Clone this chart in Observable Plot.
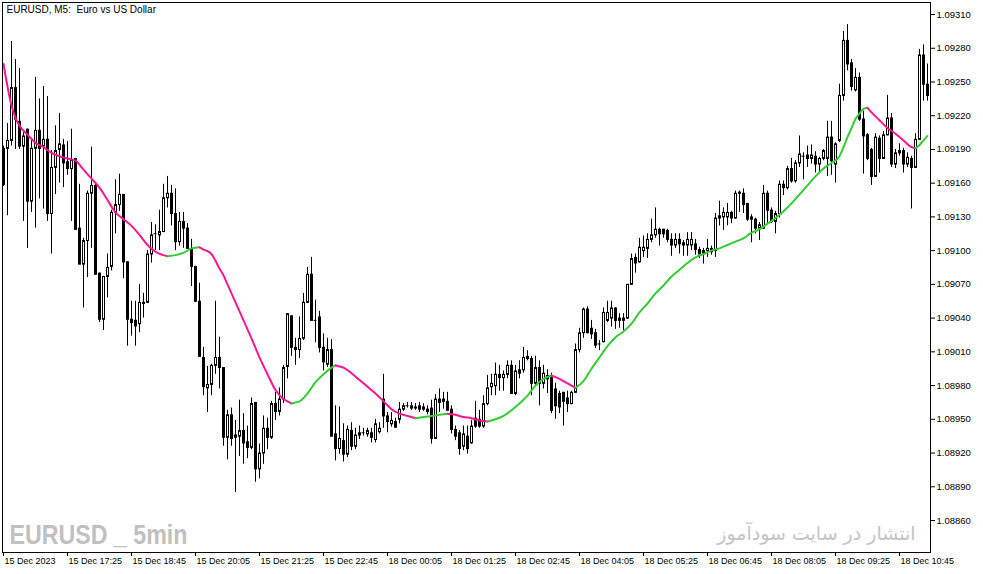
<!DOCTYPE html>
<html><head><meta charset="utf-8">
<script src="https://cdn.jsdelivr.net/npm/d3@7"></script>
<script src="https://cdn.jsdelivr.net/npm/@observablehq/plot@0.6"></script>
<style>html,body{margin:0;padding:0;background:#fff;overflow:hidden}</style>
</head><body><div id="chart"></div>
<script>
const chartTitle = "EURUSD, M5:  Euro vs US Dollar";
const watermarkLeft = "EURUSD _ 5min";
const watermarkRight = "انتشار در سایت سودآموز";

const open = [
1.09191,1.09191,1.09198,1.09245,1.09215,1.09193,1.09208,1.09144,1.09191,1.09207,
1.09193,1.09199,1.09133,1.09174,1.09190,1.09194,1.09179,1.09173,1.09182,1.09120,
1.09088,1.09109,1.09151,1.09158,1.09080,1.09039,1.09077,1.09086,1.09134,1.09141,
1.09150,1.09090,1.09039,1.09038,1.09035,1.09054,1.09054,1.09097,1.09115,1.09114,
1.09117,1.09147,1.09151,1.09133,1.09108,1.09126,1.09120,1.09102,1.09086,1.09055,
1.09005,1.08978,1.08981,1.08998,1.09005,1.08996,1.08934,1.08954,1.08934,1.08935,
1.08940,1.08930,1.08925,1.08965,1.08906,1.08920,1.08942,1.08934,1.08964,1.08957,
1.08968,1.08997,1.09042,1.09014,1.09012,1.09022,1.09054,1.09079,1.09038,1.09041,
1.09014,1.08999,1.09012,1.08937,1.08924,1.08931,1.08919,1.08940,1.08926,1.08936,
1.08938,1.08937,1.08938,1.08932,1.08939,1.08968,1.08953,1.08946,1.08948,1.08950,
1.08959,1.08962,1.08960,1.08960,1.08962,1.08959,1.08959,1.08960,1.08933,1.08968,
1.08966,1.08966,1.08959,1.08941,1.08938,1.08926,1.08935,1.08929,1.08951,1.08950,
1.08944,1.08964,1.08979,1.08980,1.08990,1.08987,1.08990,1.08998,1.08973,1.08994,
1.08994,1.09006,1.09004,1.08982,1.08996,1.08982,1.08986,1.08987,1.08977,1.08973,
1.08974,1.08969,1.08964,1.08974,1.09012,1.09027,1.09048,1.09031,1.09027,1.09017,
1.09019,1.09038,1.09040,1.09049,1.09038,1.09038,1.09040,1.09070,1.09094,1.09090,
1.09100,1.09102,1.09110,1.09114,1.09119,1.09119,1.09118,1.09110,1.09105,1.09110,
1.09107,1.09105,1.09105,1.09106,1.09101,1.09100,1.09100,1.09102,1.09100,1.09129,
1.09130,1.09130,1.09134,1.09129,1.09151,1.09151,1.09142,1.09130,1.09128,1.09120,
1.09120,1.09151,1.09136,1.09126,1.09133,1.09159,1.09156,1.09173,1.09162,1.09178,
1.09184,1.09185,1.09182,1.09184,1.09177,1.09182,1.09182,1.09201,1.09177,1.09198,
1.09238,1.09287,1.09267,1.09243,1.09254,1.09217,1.09203,1.09190,1.09166,1.09200,
1.09182,1.09203,1.09218,1.09177,1.09187,1.09189,1.09177,1.09182,1.09174,1.09199,
1.09274,1.09248];

const high = [
1.09193,1.09213,1.09286,1.09270,1.09262,1.09205,1.09208,1.09200,1.09254,1.09235,
1.09246,1.09237,1.09189,1.09211,1.09222,1.09199,1.09197,1.09208,1.09182,1.09159,
1.09111,1.09153,1.09192,1.09160,1.09080,1.09077,1.09097,1.09136,1.09163,1.09168,
1.09150,1.09090,1.09055,1.09055,1.09070,1.09062,1.09100,1.09125,1.09123,1.09136,
1.09159,1.09166,1.09158,1.09155,1.09134,1.09134,1.09124,1.09110,1.09086,1.09071,
1.09014,1.08997,1.08999,1.09055,1.09023,1.08996,1.08958,1.08960,1.08949,1.08967,
1.08955,1.08944,1.08969,1.08965,1.08928,1.08953,1.08951,1.08966,1.08974,1.08978,
1.08998,1.09044,1.09042,1.09022,1.09041,1.09062,1.09085,1.09094,1.09056,1.09046,
1.09026,1.09022,1.09021,1.08962,1.08961,1.08946,1.08944,1.08947,1.08942,1.08944,
1.08942,1.08942,1.08942,1.08950,1.08947,1.08990,1.08956,1.08956,1.08951,1.08965,
1.08964,1.08965,1.08965,1.08964,1.08965,1.08964,1.08962,1.08967,1.08972,1.08977,
1.08974,1.08974,1.08962,1.08944,1.08940,1.08944,1.08944,1.08949,1.08966,1.08958,
1.08971,1.08989,1.08990,1.09000,1.08998,1.08993,1.09002,1.09002,1.08998,1.09002,
1.09014,1.09011,1.09006,1.09006,1.09002,1.08998,1.08994,1.08991,1.08982,1.08975,
1.08974,1.08975,1.08975,1.09017,1.09031,1.09049,1.09050,1.09038,1.09030,1.09020,
1.09049,1.09055,1.09055,1.09049,1.09044,1.09044,1.09070,1.09097,1.09097,1.09111,
1.09113,1.09115,1.09128,1.09138,1.09120,1.09119,1.09119,1.09115,1.09115,1.09115,
1.09109,1.09116,1.09116,1.09110,1.09103,1.09102,1.09110,1.09104,1.09133,1.09144,
1.09138,1.09142,1.09135,1.09153,1.09153,1.09155,1.09142,1.09132,1.09129,1.09125,
1.09158,1.09153,1.09138,1.09135,1.09162,1.09162,1.09175,1.09182,1.09180,1.09202,
1.09187,1.09193,1.09194,1.09188,1.09183,1.09190,1.09215,1.09215,1.09196,1.09248,
1.09295,1.09301,1.09270,1.09262,1.09258,1.09224,1.09204,1.09191,1.09204,1.09202,
1.09206,1.09238,1.09222,1.09190,1.09195,1.09191,1.09187,1.09184,1.09204,1.09279,
1.09283,1.09266];

const low = [
1.09157,1.09131,1.09193,1.09190,1.09190,1.09126,1.09102,1.09134,1.09120,1.09146,
1.09137,1.09126,1.09097,1.09150,1.09160,1.09156,1.09167,1.09126,1.09118,1.09088,
1.09049,1.09076,1.09102,1.09079,1.09036,1.09029,1.09058,1.09082,1.09115,1.09135,
1.09075,1.09015,1.09024,1.09015,1.09027,1.09040,1.09053,1.09089,1.09100,1.09100,
1.09116,1.09138,1.09122,1.09100,1.09104,1.09102,1.09102,1.09068,1.09054,1.09005,
1.08971,1.08956,1.08971,1.08990,1.08977,1.08926,1.08914,1.08926,1.08885,1.08917,
1.08910,1.08915,1.08923,1.08894,1.08897,1.08910,1.08923,1.08932,1.08949,1.08953,
1.08964,1.08986,1.09006,1.08998,1.09004,1.09020,1.09053,1.09038,1.09018,1.09009,
1.08993,1.08996,1.08934,1.08913,1.08919,1.08912,1.08916,1.08922,1.08923,1.08932,
1.08935,1.08934,1.08929,1.08929,1.08937,1.08942,1.08938,1.08943,1.08942,1.08946,
1.08957,1.08960,1.08958,1.08958,1.08956,1.08957,1.08954,1.08928,1.08932,1.08956,
1.08959,1.08958,1.08937,1.08931,1.08918,1.08922,1.08919,1.08928,1.08942,1.08942,
1.08942,1.08962,1.08971,1.08971,1.08975,1.08975,1.08986,1.08973,1.08971,1.08986,
1.08991,1.09002,1.08971,1.08980,1.08962,1.08977,1.08973,1.08955,1.08950,1.08955,
1.08944,1.08956,1.08963,1.08973,1.09009,1.09022,1.09026,1.09021,1.09013,1.09011,
1.09018,1.09036,1.09032,1.09030,1.09031,1.09029,1.09039,1.09070,1.09080,1.09089,
1.09094,1.09093,1.09107,1.09111,1.09104,1.09111,1.09107,1.09095,1.09102,1.09097,
1.09095,1.09095,1.09100,1.09096,1.09093,1.09088,1.09094,1.09096,1.09094,1.09122,
1.09118,1.09122,1.09124,1.09128,1.09134,1.09133,1.09126,1.09107,1.09115,1.09109,
1.09119,1.09124,1.09124,1.09115,1.09129,1.09149,1.09154,1.09160,1.09160,1.09174,
1.09163,1.09174,1.09177,1.09169,1.09170,1.09180,1.09166,1.09167,1.09160,1.09196,
1.09233,1.09260,1.09242,1.09241,1.09215,1.09168,1.09180,1.09158,1.09165,1.09169,
1.09181,1.09202,1.09174,1.09173,1.09184,1.09169,1.09174,1.09137,1.09173,1.09198,
1.09233,1.09233];

const close = [
1.09159,1.09198,1.09245,1.09217,1.09193,1.09202,1.09144,1.09191,1.09207,1.09191,
1.09199,1.09133,1.09174,1.09189,1.09195,1.09178,1.09173,1.09181,1.09119,1.09088,
1.09109,1.09151,1.09158,1.09079,1.09039,1.09077,1.09085,1.09134,1.09141,1.09150,
1.09090,1.09039,1.09036,1.09033,1.09054,1.09053,1.09097,1.09114,1.09115,1.09117,
1.09147,1.09151,1.09133,1.09108,1.09126,1.09120,1.09102,1.09086,1.09055,1.09006,
1.08979,1.08981,1.08998,1.09005,1.08996,1.08934,1.08954,1.08933,1.08936,1.08940,
1.08929,1.08925,1.08964,1.08906,1.08920,1.08942,1.08934,1.08964,1.08957,1.08968,
1.08996,1.09044,1.09014,1.09012,1.09022,1.09054,1.09079,1.09038,1.09038,1.09014,
1.09001,1.09012,1.08935,1.08924,1.08933,1.08919,1.08941,1.08926,1.08936,1.08938,
1.08938,1.08940,1.08934,1.08946,1.08942,1.08953,1.08948,1.08949,1.08943,1.08959,
1.08962,1.08962,1.08962,1.08961,1.08959,1.08961,1.08957,1.08933,1.08968,1.08965,
1.08968,1.08958,1.08941,1.08935,1.08924,1.08937,1.08924,1.08944,1.08944,1.08944,
1.08964,1.08978,1.08982,1.08990,1.08987,1.08990,1.08998,1.08973,1.08993,1.08991,
1.09005,1.09004,1.08982,1.08996,1.08982,1.08991,1.08989,1.08958,1.08962,1.08961,
1.08966,1.08964,1.08974,1.09012,1.09027,1.09048,1.09027,1.09026,1.09016,1.09017,
1.09045,1.09045,1.09049,1.09038,1.09040,1.09040,1.09070,1.09093,1.09089,1.09103,
1.09103,1.09110,1.09114,1.09119,1.09115,1.09115,1.09110,1.09105,1.09110,1.09106,
1.09105,1.09110,1.09110,1.09101,1.09097,1.09098,1.09102,1.09099,1.09129,1.09131,
1.09134,1.09134,1.09129,1.09151,1.09152,1.09141,1.09128,1.09128,1.09120,1.09123,
1.09151,1.09136,1.09126,1.09133,1.09159,1.09156,1.09173,1.09162,1.09178,1.09186,
1.09184,1.09182,1.09185,1.09177,1.09182,1.09189,1.09201,1.09180,1.09195,1.09238,
1.09287,1.09266,1.09246,1.09254,1.09217,1.09202,1.09182,1.09166,1.09201,1.09182,
1.09203,1.09218,1.09177,1.09187,1.09189,1.09177,1.09183,1.09174,1.09199,1.09274,
1.09248,1.09238];

// moving-average line (bar index, price)
const maIndex = [0,1,2,3,4,6,8,10,12,14,16,17,18,20,22,24,26,28,30,32,34,36,38,40,41,43,45,47,49,50,
52,53,54,55,56,57,58,60,62,64,66,68,70,71,72,73,74,76,78,80,82,83,84,85,87,89,91,93,95,97,
99,101,103,105,107,109,111,113,115,117,119,121,123,125,127,129,131,133,135,137,139,141,143,145,147,149,151,153,155,157,
159,161,163,165,167,169,171,173,175,177,179,181,183,185,187,189,191,193,195,197,199,201,203,205,207,209,210,211,212,213,
214,215,216,217,219,221,223,225,227,228,229,230,231];
const maValue = [1.09266,1.09246,1.09229,1.09218,1.09211,1.09203,1.09196,1.09192,1.09187,1.09184,1.09182,1.09181,1.09180,1.09172,1.09164,1.09156,1.09145,1.09134,1.09128,1.09122,1.09114,1.09105,1.09099,1.09096,1.09095,1.09096,1.09098,1.09102,1.09103,1.09101,
1.09097,1.09091,1.09084,1.09078,1.09070,1.09062,1.09054,1.09038,1.09022,1.09005,1.08990,1.08976,1.08968,1.08966,1.08964,1.08965,1.08966,1.08973,1.08983,1.08990,1.08996,1.08998,1.08997,1.08996,1.08991,1.08985,1.08979,1.08973,1.08966,1.08959,
1.08955,1.08953,1.08951,1.08952,1.08953,1.08954,1.08955,1.08954,1.08952,1.08951,1.08949,1.08948,1.08950,1.08953,1.08958,1.08964,1.08971,1.08980,1.08986,1.08989,1.08986,1.08982,1.08978,1.08984,1.08995,1.09005,1.09015,1.09023,1.09028,1.09035,
1.09045,1.09053,1.09062,1.09069,1.09077,1.09083,1.09089,1.09094,1.09097,1.09100,1.09102,1.09105,1.09108,1.09111,1.09116,1.09119,1.09124,1.09129,1.09135,1.09142,1.09150,1.09158,1.09166,1.09173,1.09178,1.09184,1.09192,1.09201,1.09209,1.09217,
1.09222,1.09226,1.09227,1.09223,1.09216,1.09209,1.09204,1.09198,1.09192,1.09191,1.09194,1.09198,1.09202];

const timeLabels = ["15 Dec 2023","15 Dec 17:25","15 Dec 18:45","15 Dec 20:05","15 Dec 21:25","15 Dec 22:45",
"18 Dec 00:05","18 Dec 01:25","18 Dec 02:45","18 Dec 04:05","18 Dec 05:25","18 Dec 06:45","18 Dec 08:05","18 Dec 09:25","18 Dec 10:45"];
const labelIndex = [0,16,32,48,64,80,96,112,128,144,160,176,192,208,224];
const priceTicks = [1.08860,1.08890,1.08920,1.08950,1.08980,1.09010,1.09040,1.09070,1.09100,1.09130,1.09160,1.09190,1.09220,1.09250,1.09280,1.09310];
const priceDomain = [1.0883154, 1.0932068];
const barDomain = [-0.25, 231.75];

const UP = "#32cd32", DOWN = "#ff1493";

const candles = open.map((o, i) => ({i, open: o, high: high[i], low: low[i], close: close[i]}));
const bulls = candles.filter(d => d.close > d.open);
const bears = candles.filter(d => d.close < d.open);
const dojis = candles.filter(d => d.close === d.open);
const ma = maIndex.map((i, k) => {
  const next = k < maValue.length - 1 ? maValue[k + 1] - maValue[k] : maValue[k] - maValue[k - 1];
  return {i, v: maValue[k], color: next > 0 ? UP : DOWN};
});
const xLabels = labelIndex.map((i, k) => ({i, label: timeLabels[k]}));

const chart = Plot.plot({
  width: 983, height: 574,
  marginLeft: 2, marginRight: 53, marginTop: 2, marginBottom: 22,
  style: {background: "#fff", color: "#000", fontFamily: "Liberation Sans, Arial, sans-serif", fontSize: "9.5px", overflow: "visible"},
  x: {domain: barDomain, ticks: labelIndex, tickFormat: () => "", tickSize: 4, label: null},
  y: {domain: priceDomain, axis: "right", ticks: priceTicks, tickFormat: d3.format(".5f"), tickSize: 4, tickPadding: 2, label: null},
  color: {type: "identity"},
  marks: [
    Plot.text([watermarkLeft], {text: d => d, frameAnchor: "bottom-left", dx: 7, dy: -9, lineAnchor: "bottom", textAnchor: "start",
      fontSize: 28, fontWeight: "bold", fontFamily: "Liberation Sans Narrow, Liberation Sans, sans-serif", fill: "#c0c0c0"}),
    Plot.text([watermarkRight], {text: d => d, frameAnchor: "bottom-right", dx: -15, dy: -13, lineAnchor: "bottom", textAnchor: "end",
      fontSize: 19, fontFamily: "DejaVu Sans, sans-serif", fill: "#c4c4c4"}),
    Plot.text([chartTitle], {text: d => d, frameAnchor: "top-left", dx: 4, dy: 3, lineAnchor: "top", textAnchor: "start", fontSize: 10, fill: "#000"}),
    Plot.ruleX(candles, {x: "i", y1: "low", y2: "high", stroke: "#000", strokeWidth: 1}),
    Plot.rect(bulls, {x1: d => d.i - 0.25, x2: d => d.i + 0.25, y1: "open", y2: "close", dx: 0.5, dy: 0.5, fill: "#fff", stroke: "#000", strokeWidth: 1}),
    Plot.rect(bears, {x1: d => d.i - 0.25, x2: d => d.i + 0.25, y1: "open", y2: "close", dx: 0.5, dy: 0.5, fill: "#000", stroke: "#000", strokeWidth: 1}),
    Plot.ruleY(dojis, {y: "open", x1: d => d.i - 0.375, x2: d => d.i + 0.375, stroke: "#000", strokeWidth: 1}),
    Plot.line(ma, {x: "i", y: "v", z: null, stroke: "color", strokeWidth: 2, curve: "monotone-x"}),
    Plot.text(xLabels, {x: "i", text: "label", frameAnchor: "bottom", lineAnchor: "top", textAnchor: "start", dx: 1, dy: 5, fontSize: 9, fill: "#000"}),
    Plot.frame({stroke: "#000"})
  ]
});
// compress the bold watermark to the condensed width it has in the picture
for (const t of chart.querySelectorAll("text")) {
  if (t.textContent === watermarkLeft) {
    t.setAttribute("textLength", "178");
    t.setAttribute("lengthAdjust", "spacingAndGlyphs");
  }
}
document.getElementById("chart").appendChild(chart);
</script>
</body></html>
